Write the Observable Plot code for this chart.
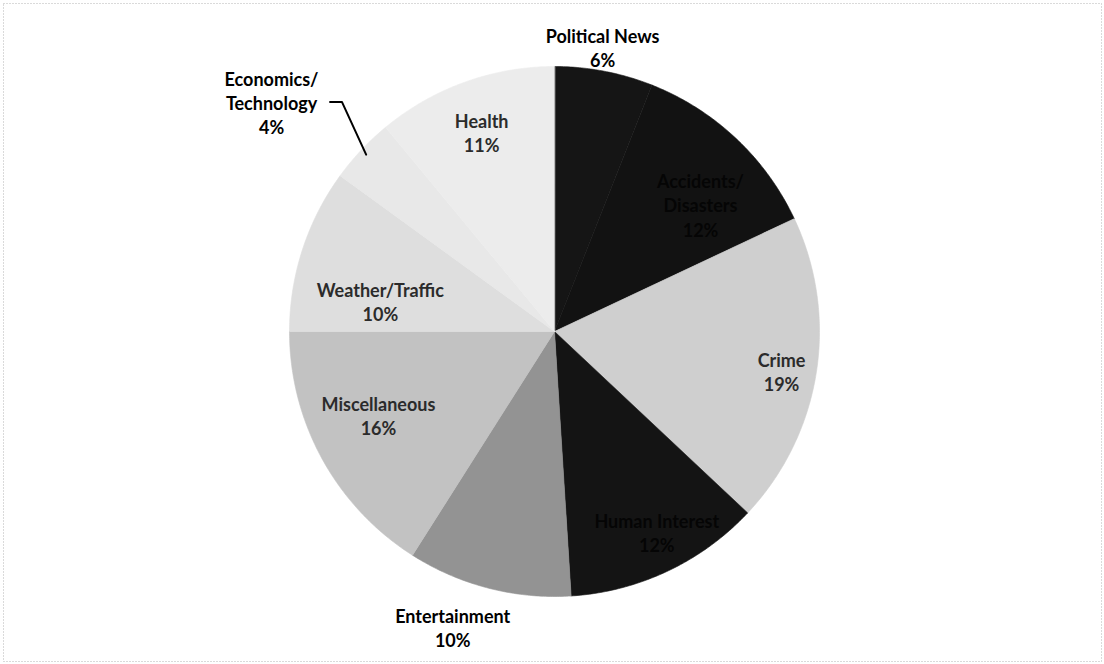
<!DOCTYPE html>
<html>
<head>
<meta charset="utf-8">
<script src="https://cdn.jsdelivr.net/npm/d3@7"></script>
<script src="https://cdn.jsdelivr.net/npm/@observablehq/plot@0.6"></script>
<style>
  html, body { margin: 0; padding: 0; background: #fff; }
  #chart svg { display: block; }
</style>
</head>
<body>
<div id="chart"></div>
<script>
// ---- data ----
const categories = ["Political News", "Accidents/Disasters", "Crime", "Human Interest", "Entertainment", "Miscellaneous", "Weather/Traffic", "Economics/Technology", "Health"];
const shares = [6, 12, 19, 12, 10, 16, 10, 4, 11];
const labelNames = ["Political News", "Accidents/\nDisasters", "Crime", "Human Interest", "Entertainment", "Miscellaneous", "Weather/Traffic", "Economics/\nTechnology", "Health"];

// ---- styles / layout ----
const sliceColors = ["#151515", "#121212", "#cfcfcf", "#141414", "#939393", "#c2c2c2", "#dedede", "#e8e8e8", "#ececec"];
const labelColors = ["#000", "#050505", "#2b2b2b", "#050505", "#000", "#2b2b2b", "#2b2b2b", "#000", "#2b2b2b"];
// label anchor in polar form: radius factor, angle (deg, clockwise from top)
const labelPolar = [[1.087, 9.6], [0.73, 49], [0.87, 100], [0.85, 153], [1.18, 199], [0.736, 244.5], [0.667, 279.8], [1.374, 309], [0.80, 339.9]];

const W = 1104, H = 664, cx = 554, cy = 331, R = 265;

const total = d3.sum(shares);
let acc = 0;
const slices = categories.map((name, i) => {
  const a0 = acc / total * 360;
  acc += shares[i];
  const a1 = acc / total * 360;
  return {name, value: shares[i], a0, a1, i};
});
const rad = d => d * Math.PI / 180;
const polar = (r, a) => ({x: r * Math.sin(rad(a)), y: r * Math.cos(rad(a))});

const polys = [];
for (const s of slices) {
  polys.push({name: s.name, ...polar(0, 0)});
  const n = Math.max(2, Math.ceil((s.a1 - s.a0) / 0.5));
  for (let k = 0; k <= n; k++) {
    const a = s.a0 + (s.a1 - s.a0) * k / n;
    polys.push({name: s.name, ...polar(1, a)});
  }
}

const labels = slices.map((s, i) => {
  const p = polar(labelPolar[i][0], labelPolar[i][1]);
  return {x: p.x, y: p.y, text: labelNames[i] + "\n" + s.value + "%", color: labelColors[i]};
});

// leader line for Economics/Technology
const econ = slices[7];
const mid = (econ.a0 + econ.a1) / 2;
const p0 = polar(0.975, mid);
const p1 = polar(1.18, mid + 4);
const leader = [p0, p1, {x: p1.x - 12 / R, y: p1.y}];

const chart = Plot.plot({
  width: W,
  height: H,
  margin: 0,
  x: {domain: [-cx / R, (W - cx) / R], range: [0, W], axis: null},
  y: {domain: [-(H - cy) / R, cy / R], range: [H, 0], axis: null},
  color: {domain: categories, range: sliceColors},
  style: {fontFamily: "Lato, 'Noto Sans', sans-serif", background: "#fff"},
  marks: [
    Plot.frame({stroke: "#b5b5b5", strokeDasharray: "1,2", inset: 3}),
    Plot.line(polys, {x: "x", y: "y", z: "name", fill: "name", stroke: "name", strokeWidth: 0.6, curve: "linear-closed"}),
    Plot.line(leader, {x: "x", y: "y", stroke: "#000", strokeWidth: 2}),
    Plot.text(labels, {x: "x", y: "y", text: "text", fill: "color", fontSize: 18, fontWeight: "bold", lineHeight: 1.35, lineAnchor: "middle", textAnchor: "middle"})
  ]
});
document.getElementById("chart").appendChild(chart);
</script>
</body>
</html>
